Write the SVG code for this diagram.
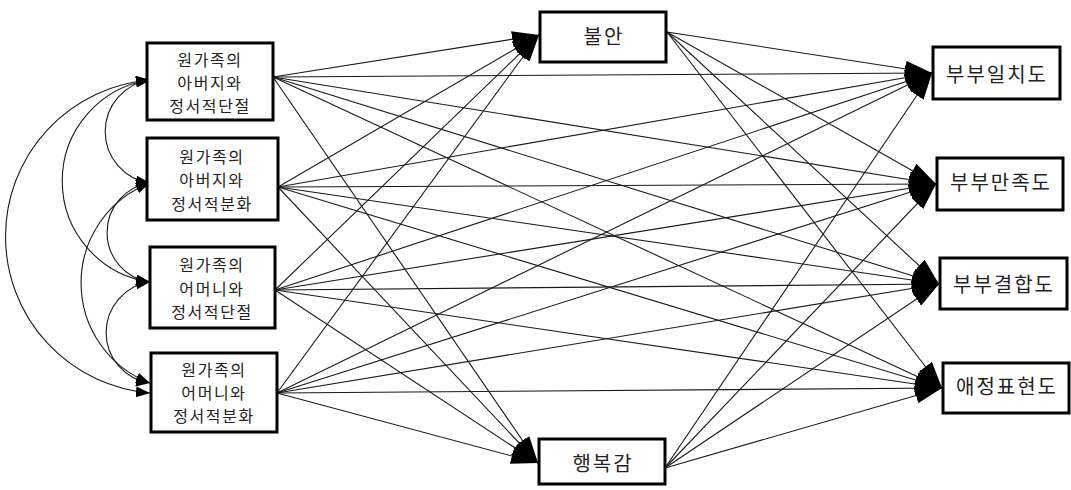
<svg xmlns="http://www.w3.org/2000/svg" width="1071" height="490" viewBox="0 0 1071 490">
<style>
.box{fill:#fff;stroke:#000;stroke-width:3}
text{font-family:"Noto Sans CJK KR","Noto Sans",sans-serif;fill:#222;text-anchor:middle}
.lt{font-size:16px;letter-spacing:1.6px}
.mt{font-size:20px;letter-spacing:2px}
.ln{stroke:#1a1a1a;stroke-width:1.1;fill:none;marker-end:url(#big)}
.arc{stroke:#1a1a1a;stroke-width:1.1;fill:none;marker-end:url(#sm);marker-start:url(#sm)}
</style>
<defs>
<marker id="big" markerUnits="userSpaceOnUse" viewBox="0 0 27 16" refX="27" refY="8" markerWidth="27" markerHeight="16" orient="auto">
<path d="M0,0 L27,8 L0,16 Z" fill="#000"/>
</marker>
<marker id="sm" markerUnits="userSpaceOnUse" viewBox="0 0 14 11" refX="14" refY="5.5" markerWidth="14" markerHeight="11" orient="auto-start-reverse">
<path d="M0,0 L14,5.5 L0,11 Z" fill="#000"/>
</marker>
</defs>
<rect width="1071" height="490" fill="#fff"/>
<g id="connectors">
<path class="ln" d="M273,77 L539,35"/>
<path class="ln" d="M273,77 L538,463"/>
<path class="ln" d="M273,77 L932,73"/>
<path class="ln" d="M273,77 L936,184"/>
<path class="ln" d="M273,77 L939,284"/>
<path class="ln" d="M273,77 L942,388"/>
<path class="ln" d="M278,187 L539,35"/>
<path class="ln" d="M278,187 L538,463"/>
<path class="ln" d="M278,187 L932,73"/>
<path class="ln" d="M278,187 L936,184"/>
<path class="ln" d="M278,187 L939,284"/>
<path class="ln" d="M278,187 L942,388"/>
<path class="ln" d="M275,290 L539,35"/>
<path class="ln" d="M275,290 L538,463"/>
<path class="ln" d="M275,290 L932,73"/>
<path class="ln" d="M275,290 L936,184"/>
<path class="ln" d="M275,290 L939,284"/>
<path class="ln" d="M275,290 L942,388"/>
<path class="ln" d="M277,393 L539,35"/>
<path class="ln" d="M277,393 L538,463"/>
<path class="ln" d="M277,393 L932,73"/>
<path class="ln" d="M277,393 L936,184"/>
<path class="ln" d="M277,393 L939,284"/>
<path class="ln" d="M277,393 L942,388"/>
<path class="ln" d="M667,32 L932,73"/>
<path class="ln" d="M667,32 L936,184"/>
<path class="ln" d="M667,32 L939,284"/>
<path class="ln" d="M667,32 L942,388"/>
<path class="ln" d="M665,468 L932,73"/>
<path class="ln" d="M665,468 L936,184"/>
<path class="ln" d="M665,468 L939,284"/>
<path class="ln" d="M665,468 L942,388"/>
<path class="arc" d="M150,80 A52,52 0 0 0 150,183"/>
<path class="arc" d="M150,183 A50,50 0 0 0 150,282"/>
<path class="arc" d="M150,282 A51,51 0 0 0 150,383"/>
<path class="arc" d="M150,80 A102,102 0 0 0 150,282"/>
<path class="arc" d="M150,183 A107,107 0 0 0 150,383"/>
<path class="arc" d="M150,80 A157,157 0 0 0 150,393"/>
</g>
<g id="n_father_cutoff">
<rect class="box" x="147" y="43" width="126" height="77"/>
<text class="lt" x="210" y="66">원가족의</text>
<text class="lt" x="210" y="89">아버지와</text>
<text class="lt" x="210" y="112">정서적단절</text>
</g>
<g id="n_father_diff">
<rect class="box" x="147" y="138" width="131" height="82"/>
<text class="lt" x="212" y="163">원가족의</text>
<text class="lt" x="212" y="186">아버지와</text>
<text class="lt" x="212" y="210">정서적분화</text>
</g>
<g id="n_mother_cutoff">
<rect class="box" x="150" y="247" width="125" height="81"/>
<text class="lt" x="212" y="271">원가족의</text>
<text class="lt" x="212" y="295">어머니와</text>
<text class="lt" x="212" y="318">정서적단절</text>
</g>
<g id="n_mother_diff">
<rect class="box" x="151" y="353" width="126" height="79"/>
<text class="lt" x="214" y="376">원가족의</text>
<text class="lt" x="214" y="399">어머니와</text>
<text class="lt" x="214" y="422">정서적분화</text>
</g>
<g id="n_anxiety">
<rect class="box" x="540" y="12" width="126" height="50"/>
<text class="mt" x="604" y="44">불안</text>
</g>
<g id="n_happiness">
<rect class="box" x="539" y="439" width="126" height="45"/>
<text class="mt" x="603" y="471">행복감</text>
</g>
<g id="n_consensus">
<rect class="box" x="933" y="47" width="127" height="52"/>
<text class="mt" x="997" y="82">부부일치도</text>
</g>
<g id="n_satisfaction">
<rect class="box" x="937" y="158" width="126" height="52"/>
<text class="mt" x="1001" y="190">부부만족도</text>
</g>
<g id="n_cohesion">
<rect class="box" x="940" y="258" width="127" height="51"/>
<text class="mt" x="1004" y="292">부부결합도</text>
</g>
<g id="n_affection">
<rect class="box" x="943" y="363" width="126" height="50"/>
<text class="mt" x="1007" y="394">애정표현도</text>
</g>
</svg>
